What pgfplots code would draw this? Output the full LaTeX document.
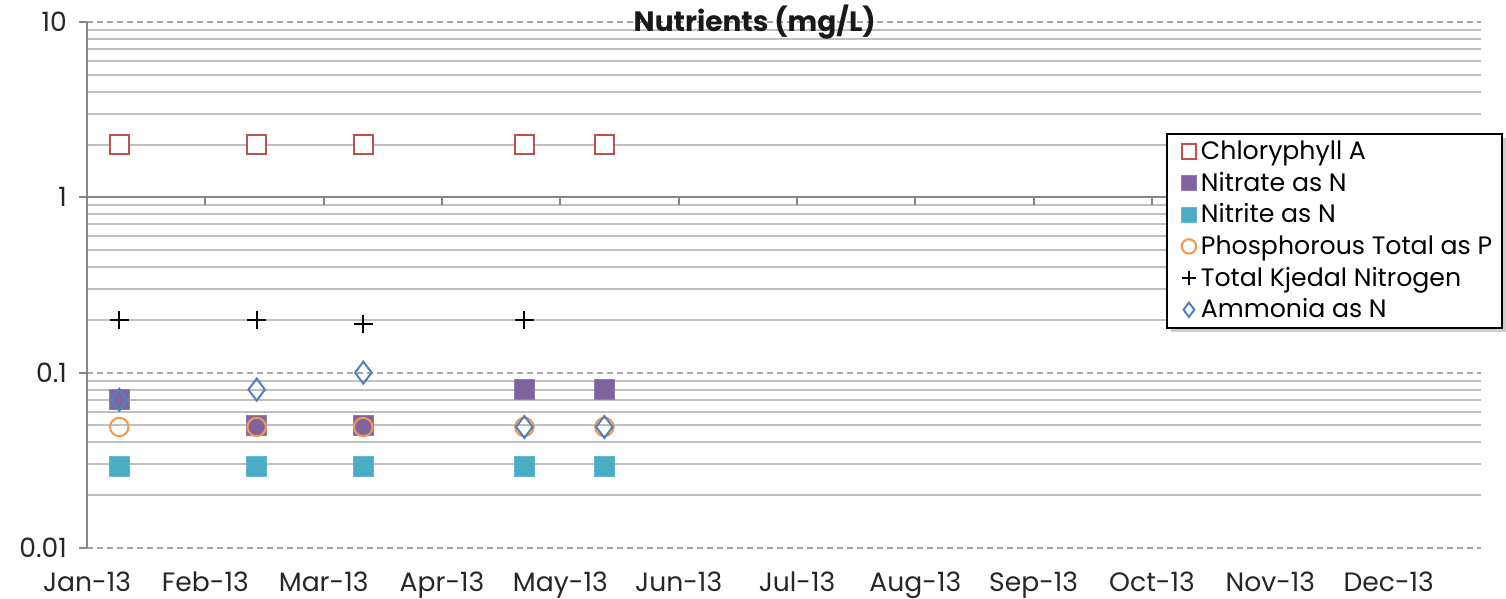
\documentclass[border=0pt]{standalone}
\usepackage{pgfplots}
\pgfplotsset{compat=1.18}
\usetikzlibrary{shadows}
\usepackage{fontspec}
\setmainfont{Poppins}
\definecolor{chl}{HTML}{C0504D}
\definecolor{nitrate}{HTML}{8064A2}
\definecolor{nitrite}{HTML}{4BACC6}
\definecolor{phos}{HTML}{F79646}
\definecolor{amm}{HTML}{4F81BD}
\definecolor{axisgray}{HTML}{868686}
\definecolor{gridmajor}{HTML}{A6A6A6}
\definecolor{gridminor}{HTML}{C0C0C0}
\begin{document}
\begin{tikzpicture}
\begin{axis}[
  at={(0,0)}, anchor=south west, scale only axis,
  width=697pt, height=263pt,
  xmin=0, xmax=11.78,
  ymode=log, ymin=0.01, ymax=10,
  xtick={0,1,2,3,4,5,6,7,8,9,10,11},
  xticklabels={Jan-13,Feb-13,Mar-13,Apr-13,May-13,Jun-13,Jul-13,Aug-13,Sep-13,Oct-13,Nov-13,Dec-13},
  ytick={0.01,0.1,1,10}, yticklabels={0.01,0.1,1,10},
  minor ytick={0.02,0.03,0.04,0.05,0.06,0.07,0.08,0.09,0.2,0.3,0.4,0.5,0.6,0.7,0.8,0.9,2,3,4,5,6,7,8,9},
  ymajorgrids, yminorgrids,
  major grid style={dash pattern=on 3pt off 2pt, color=gridmajor, line width=0.9pt},
  minor grid style={color=gridminor, line width=1pt},
  axis x line*=bottom, axis y line*=left,
  x axis line style={draw=none},
  y axis line style={draw=axisgray, line width=1pt, -},
  xtick style={draw=none},
  ytick style={draw=axisgray, line width=1pt},
  tick align=outside, major tick length=4pt, minor tick length=0pt,
  ticklabel style={font=\fontsize{13.3}{15}\selectfont, text=black!85},
  xticklabel style={yshift=-4.5pt},
  yticklabel style={xshift=-2.5pt},
  clip=false,
  legend style={at={(rel axis cs:0.774,0.789)}, anchor=north west, draw=black, line width=0.8pt,
    fill=white, drop shadow={shadow xshift=2pt, shadow yshift=-2pt, fill=black!40},
    font=\fontsize{12.6}{14}\selectfont, row sep=0.8pt, inner xsep=3pt, inner ysep=1.5pt,
    legend cell align=left},
  legend image code/.code={\node[inner sep=0pt, minimum width=12.1pt, minimum height=1pt, anchor=west, draw opacity=0, fill opacity=0, text opacity=0] at (0pt,0pt) {};
    \draw[#1, mark size=3.6pt] plot coordinates {(8.5pt,0pt)};},
]
\draw[axisgray, line width=1pt] (axis cs:0,1) -- (axis cs:11.78,1);
\pgfplotsinvokeforeach{1,...,11}{\draw[axisgray, line width=1pt] (axis cs:#1,1) -- ([yshift=-4pt]axis cs:#1,1);}
\addplot[only marks, mark=square*, mark size=4.8pt, mark options={draw=chl, fill=white, line width=1pt}]
  coordinates {(0.273,2) (1.434,2) (2.335,2) (3.696,2) (4.372,2)};
\addlegendentry{Chloryphyll A}
\addplot[only marks, mark=square*, mark size=5pt, mark options={draw=nitrate!85!white, fill=nitrate, line width=0.5pt}]
  coordinates {(0.273,0.07) (1.434,0.05) (2.335,0.05) (3.696,0.08) (4.372,0.08)};
\addlegendentry{Nitrate as N}
\addplot[only marks, mark=square*, mark size=5pt, mark options={draw=nitrite!85!white, fill=nitrite, line width=0.5pt}]
  coordinates {(0.273,0.029) (1.434,0.029) (2.335,0.029) (3.696,0.029) (4.372,0.029)};
\addlegendentry{Nitrite as N}
\addplot[only marks, mark=o, mark size=4.6pt, mark options={draw=phos, line width=1pt}]
  coordinates {(0.273,0.049) (1.434,0.049) (2.335,0.049) (3.696,0.049) (4.372,0.049)};
\addlegendentry{Phosphorous Total as P}
\addplot[only marks, mark=+, mark size=4.6pt, mark options={draw=black, line width=1pt}]
  coordinates {(0.273,0.2) (1.434,0.2) (2.335,0.19) (3.696,0.2)};
\addlegendentry{Total Kjedal Nitrogen}
\addplot[only marks, mark=diamond, mark size=5.5pt, mark options={draw=amm, line width=1pt}]
  coordinates {(0.273,0.07) (1.434,0.08) (2.335,0.1) (3.696,0.049) (4.372,0.049)};
\addlegendentry{Ammonia as N}
\node[font=\bfseries\fontsize{14}{16}\selectfont, text=black!90] at (rel axis cs:0.479,1) {Nutrients (mg/L)};
\end{axis}
\pgfresetboundingbox
\path[use as bounding box] (-43.5pt,-25.5pt) rectangle (709.5pt,274pt);
\end{tikzpicture}
\end{document}
